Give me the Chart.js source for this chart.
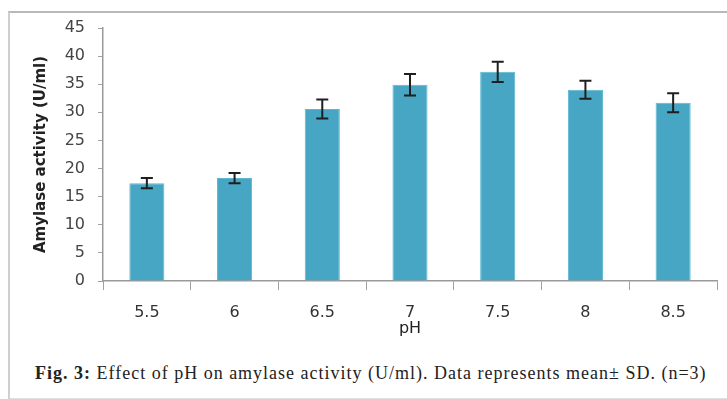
<!DOCTYPE html>
<html>
<head>
<meta charset="utf-8">
<script src="https://cdn.jsdelivr.net/npm/chart.js@4/dist/chart.umd.min.js"></script>
<style>
  html, body { margin: 0; padding: 0; background: #fff; }
  body { width: 727px; height: 399px; position: relative; overflow: hidden; }
  #frame {
    position: absolute; left: 8px; top: 11px; width: 730px; height: 385px;
    border-left: 2px solid #cfcfcf; border-top: 2px solid #b8b8b8; border-bottom: 2px solid #e0e0e0;
  }
  #wrap { position: absolute; left: 0; top: 0; width: 727px; height: 340px; }
  #caption {
    position: absolute; left: 35px; top: 363px; width: 690px;
    font-family: "Liberation Serif", "Times New Roman", serif; font-size: 18px; color: #222;
    letter-spacing: 1px; white-space: nowrap;
  }
</style>
</head>
<body>
<div id="frame"></div>
<div id="wrap"><canvas id="phChart"></canvas></div>
<div id="caption"><b>Fig. 3:</b> Effect of pH on amylase activity (U/ml). Data represents mean± SD. (n=3)</div>
<script>
const phLabels = ["5.5", "6", "6.5", "7", "7.5", "8", "8.5"];
const activity = [17.4, 18.3, 30.6, 34.9, 37.2, 34.0, 31.7];
const activitySD = [0.9, 0.9, 1.7, 1.9, 1.8, 1.6, 1.7];

// draws the SD whiskers on top of each bar
const errorBars = {
  id: "errorBars",
  afterDatasetsDraw(chart) {
    const ctx = chart.ctx;
    const meta = chart.getDatasetMeta(0);
    const y = chart.scales.y;
    ctx.save();
    ctx.strokeStyle = "#1f1f1f";
    ctx.lineWidth = 2;
    meta.data.forEach((bar, i) => {
      const top = y.getPixelForValue(activity[i] + activitySD[i]);
      const bottom = y.getPixelForValue(activity[i] - activitySD[i]);
      const cap = 6;
      ctx.beginPath();
      ctx.moveTo(bar.x, top);
      ctx.lineTo(bar.x, bottom);
      ctx.moveTo(bar.x - cap, top);
      ctx.lineTo(bar.x + cap, top);
      ctx.moveTo(bar.x - cap, bottom);
      ctx.lineTo(bar.x + cap, bottom);
      ctx.stroke();
    });
    ctx.restore();
  },
};

const ctx = document.getElementById("phChart").getContext("2d");
new Chart(ctx, {
  type: "bar",
  data: {
    labels: phLabels,
    datasets: [
      {
        label: "Amylase activity",
        data: activity,
        backgroundColor: "#46a6c3",
        borderColor: "#5bb6d0",
        borderWidth: 1,
        categoryPercentage: 0.8,
        barPercentage: 0.5,
      },
    ],
  },
  options: {
    responsive: true,
    maintainAspectRatio: false,
    animation: false,
    layout: { padding: { left: 32, right: 10, top: 28, bottom: 0 } },
    plugins: {
      legend: { display: false },
      tooltip: { enabled: false },
    },
    scales: {
      x: {
        afterFit: (scale) => { scale.height = 59; },
        grid: { drawOnChartArea: false, drawTicks: true, tickLength: 9, color: "#a0a0a0" },
        border: { color: "#9a9a9a", width: 1.5 },
        ticks: { padding: 13, color: "#333", font: { family: "DejaVu Sans", size: 16 } },
        title: {
          display: true,
          text: "pH",
          color: "#222",
          font: { family: "DejaVu Sans", size: 16 },
          padding: { top: 0, bottom: 2 },
        },
      },
      y: {
        min: 0,
        max: 45,
        afterFit: (scale) => { scale.width = 71; },
        ticks: { stepSize: 5, padding: 13, color: "#444", font: { family: "DejaVu Sans", size: 16 } },
        grid: { drawOnChartArea: false, drawTicks: true, tickLength: 5, color: "#a0a0a0" },
        border: { color: "#9a9a9a", width: 1.5 },
        title: {
          display: true,
          text: "Amylase activity (U/ml)",
          color: "#222",
          font: { family: "DejaVu Sans", size: 15, weight: "bold" },
          padding: 0,
        },
      },
    },
  },
  plugins: [errorBars],
});
</script>
</body>
</html>
